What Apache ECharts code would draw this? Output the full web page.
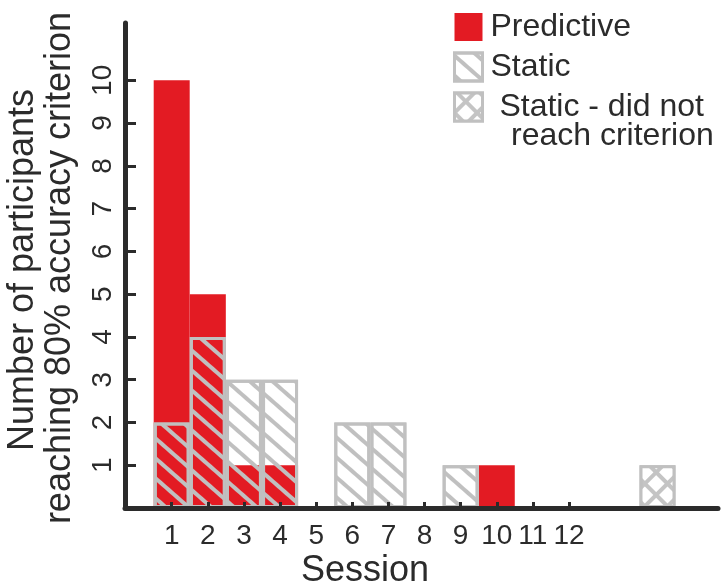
<!DOCTYPE html>
<html>
<head>
<meta charset="utf-8">
<script src="https://cdn.jsdelivr.net/npm/echarts@6/dist/echarts.min.js"></script>
<style>
html,body{margin:0;padding:0;background:#fff;}
#chart{width:722px;height:588px;}
</style>
</head>
<body>
<div id="chart"></div>
<script>
// ---- data ----
const sessionTicks = [1, 2, 3, 4, 5, 6, 7, 8, 9, 10, 11, 12];
const yTicks = [1, 2, 3, 4, 5, 6, 7, 8, 9, 10];
const predictiveSessions = [1, 2, 3, 4, 10];
const predictiveCounts = [10, 5, 1, 1, 1];
const staticSessions = [1, 2, 3, 4, 6, 7, 9];
const staticCounts = [2, 4, 3, 3, 2, 2, 1];
const notReachedPosition = [14.45];
const notReachedCounts = [1];
const seriesNames = ['Predictive', 'Static', 'Static - did not reach criterion'];
const xTitle = 'Session';
const yTitleLines = ['Number of participants', 'reaching 80% accuracy criterion'];

const pair = (xs, ys) => xs.map((x, i) => [x, ys[i]]);

const RED = '#e31b23';
const GRAY = '#c0c0c0';
const INK = '#2b2b2b';
const FONT = '"Liberation Sans", Arial, Helvetica, sans-serif';

const chart = echarts.init(document.getElementById('chart'), null, {renderer: 'canvas'});

const option = {
  backgroundColor: '#ffffff',
  animation: false,
  grid: {left: 125, right: 4, top: 23, bottom: 80, containLabel: false},
  xAxis: {
    type: 'value',
    min: -0.293,
    max: 16.125,
    z: 10,
    splitLine: {show: false},
    axisLine: {show: true, onZero: false, lineStyle: {color: INK, width: 5}},
    axisTick: {show: true, inside: true, length: 6, customValues: sessionTicks, lineStyle: {color: INK, width: 3}},
    axisLabel: {show: true, customValues: sessionTicks, margin: 14, fontSize: 28, color: INK, fontFamily: FONT}
  },
  yAxis: {
    type: 'value',
    min: 0,
    max: 11.34,
    z: 10,
    splitLine: {show: false},
    axisLine: {show: true, onZero: false, lineStyle: {color: INK, width: 5}},
    axisTick: {show: true, inside: true, length: 11, customValues: yTicks, lineStyle: {color: INK, width: 3}},
    axisLabel: {show: true, customValues: yTicks, rotate: 90, margin: 8, fontSize: 28, color: INK, fontFamily: FONT}
  },
  legend: {
    orient: 'vertical',
    left: 453,
    top: 10,
    padding: 0,
    itemWidth: 28,
    itemHeight: 28,
    itemGap: 6,
    icon: 'rect',
    selectedMode: false,
    textStyle: {fontSize: 32, color: INK, fontFamily: FONT, lineHeight: 34, padding: [0, 0, 0, 3]},
    formatter: function (name) {
      return name === seriesNames[2] ? ' Static - did not' : name;
    },
    data: [
      {name: seriesNames[0]},
      {name: seriesNames[1], itemStyle: {borderColor: GRAY, borderWidth: 3}},
      {name: seriesNames[2], itemStyle: {borderColor: GRAY, borderWidth: 3}}
    ]
  },
  graphic: [
    {type: 'text', x: 23, y: 270, rotation: Math.PI / 2,
     style: {text: yTitleLines[0], font: '36px ' + FONT, fill: INK, align: 'center', verticalAlign: 'middle'}},
    {type: 'text', x: 60, y: 268, rotation: Math.PI / 2,
     style: {text: yTitleLines[1], font: '36px ' + FONT, fill: INK, align: 'center', verticalAlign: 'middle'}},
    {type: 'text', x: 365, y: 571,
     style: {text: xTitle, font: '36px ' + FONT, fill: INK, align: 'center', verticalAlign: 'middle'}},
    {type: 'text', x: 511, y: 136,
     style: {text: 'reach criterion', font: '32px ' + FONT, fill: INK, align: 'left', verticalAlign: 'middle'}}
  ],
  series: [
    {
      name: seriesNames[0],
      type: 'bar',
      barWidth: 36,
      barGap: '-100%',
      itemStyle: {color: RED},
      data: pair(predictiveSessions, predictiveCounts)
    },
    {
      name: seriesNames[1],
      type: 'bar',
      barWidth: 36,
      barGap: '-100%',
      itemStyle: {
        color: 'rgba(255,255,255,0)',
        borderColor: GRAY,
        borderWidth: 3,
        decal: {
          symbol: 'rect',
          symbolSize: 1,
          color: GRAY,
          dashArrayX: [1, 0],
          dashArrayY: [4, 10.5],
          rotation: 0.72
        }
      },
      data: pair(staticSessions, staticCounts)
    },
    {
      name: seriesNames[2],
      type: 'bar',
      barWidth: 36,
      barGap: '-100%',
      itemStyle: {
        color: '#c4c4c4',
        borderColor: GRAY,
        borderWidth: 3,
        decal: {
          symbol: 'rect',
          symbolSize: 1,
          color: '#ffffff',
          dashArrayX: [12, 4],
          dashArrayY: [12, 4],
          rotation: Math.PI / 4
        }
      },
      data: pair(notReachedPosition, notReachedCounts)
    }
  ]
};
chart.setOption(option);
</script>
</body>
</html>
